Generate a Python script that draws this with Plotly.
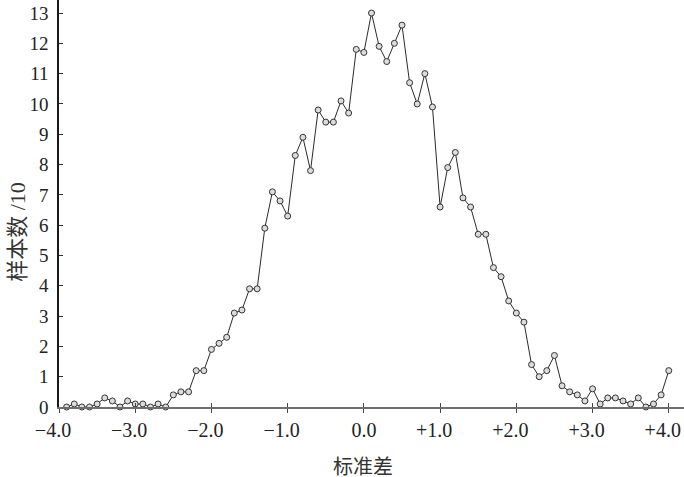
import plotly.graph_objects as go

x_vals = [round(-3.9 + 0.1 * i, 1) for i in range(80)]
counts = [
    0, 0.1, 0, 0, 0.1, 0.3, 0.2, 0, 0.2, 0.1,      # -3.9 .. -3.0
    0.1, 0, 0.1, 0, 0.4, 0.5, 0.5, 1.2, 1.2, 1.9,  # -2.9 .. -2.0
    2.1, 2.3, 3.1, 3.2, 3.9, 3.9, 5.9, 7.1, 6.8, 6.3,  # -1.9 .. -1.0
    8.3, 8.9, 7.8, 9.8, 9.4, 9.4, 10.1, 9.7, 11.8, 11.7,  # -0.9 .. 0.0
    13.0, 11.9, 11.4, 12.0, 12.6, 10.7, 10.0, 11.0, 9.9, 6.6,  # 0.1 .. 1.0
    7.9, 8.4, 6.9, 6.6, 5.7, 5.7, 4.6, 4.3, 3.5, 3.1,  # 1.1 .. 2.0
    2.8, 1.4, 1.0, 1.2, 1.7, 0.7, 0.5, 0.4, 0.2, 0.6,  # 2.1 .. 3.0
    0.1, 0.3, 0.3, 0.2, 0.1, 0.3, 0, 0.1, 0.4, 1.2,    # 3.1 .. 4.0
]

x_tick_vals = [-4, -3, -2, -1, 0, 1, 2, 3, 4]
x_tick_text = ["\u22124.0", "\u22123.0", "\u22122.0", "\u22121.0", "0.0",
               "+1.0", "+2.0", "+3.0", "+4.0"]
y_tick_vals = list(range(0, 14))
x_title = "标准差"
y_title = "样本数 /10"

serif = "Liberation Serif, Times New Roman, Noto Sans CJK SC, serif"

# signed labels on the main axis (shifted so the number sits on the tick),
# unsigned "0.0" on the overlay axis
signed_text = [t if t != "0.0" else "" for t in x_tick_text]
zero_text = [t if t == "0.0" else "" for t in x_tick_text]

fig = go.Figure()
fig.add_trace(go.Scatter(
    x=x_vals, y=counts, mode="lines+markers",
    line=dict(color="#2a2a2a", width=1),
    marker=dict(symbol="circle", size=6, color="#dcdcdc",
                line=dict(color="#333333", width=1)),
    showlegend=False, cliponaxis=False, hoverinfo="skip",
))
fig.add_trace(go.Scatter(x=[x_vals[0]], y=[counts[0]], xaxis="x2",
                         mode="markers", marker=dict(opacity=0),
                         showlegend=False, hoverinfo="skip"))

fig.update_layout(
    width=684, height=477,
    margin=dict(l=59, r=0, t=0, b=70),
    plot_bgcolor="white", paper_bgcolor="white",
    font=dict(family=serif, color="#222222", size=19),
    xaxis=dict(
        range=[-4, 4.2], tickvals=x_tick_vals, ticktext=signed_text,
        showgrid=False, zeroline=False, showline=True, linecolor="#6e6e6e",
        linewidth=1.5, ticks="outside", ticklen=4, tickcolor="#444444",
        tickfont=dict(size=20, family=serif), ticklabelshift=-6,
        fixedrange=True,
    ),
    xaxis2=dict(
        range=[-4, 4.2], tickvals=x_tick_vals, ticktext=zero_text,
        overlaying="x", side="bottom", anchor="y",
        showticklabels=True, tickfont=dict(size=20, family=serif),
        showgrid=False, zeroline=False, showline=False,
        ticks="inside", ticklen=4, tickcolor="#444444",
        ticklabelstandoff=9,
    ),
    yaxis=dict(
        range=[0, 13.43], tickvals=y_tick_vals,
        showgrid=False, zeroline=False, showline=True, linecolor="#1a1a1a",
        linewidth=1.5, ticks="inside", ticklen=4, tickcolor="#333333",
        tickfont=dict(size=19, family=serif), ticklabelstandoff=5,
    ),
    annotations=[
        dict(text=x_title, xref="paper", yref="paper", x=0.486, y=-0.147,
             xanchor="center", yanchor="middle", showarrow=False,
             font=dict(size=20, family=serif, color="#333333")),
        dict(text=y_title, xref="paper", yref="paper", x=-0.066, y=0.43,
             xanchor="center", yanchor="middle", showarrow=False,
             textangle=-90, font=dict(size=22, family=serif, color="#333333")),
    ],
)

fig.write_html(
    "out.html",
    config={"displayModeBar": False},
    post_script="document.body.style.margin='0';document.body.style.overflow='hidden';",
)
